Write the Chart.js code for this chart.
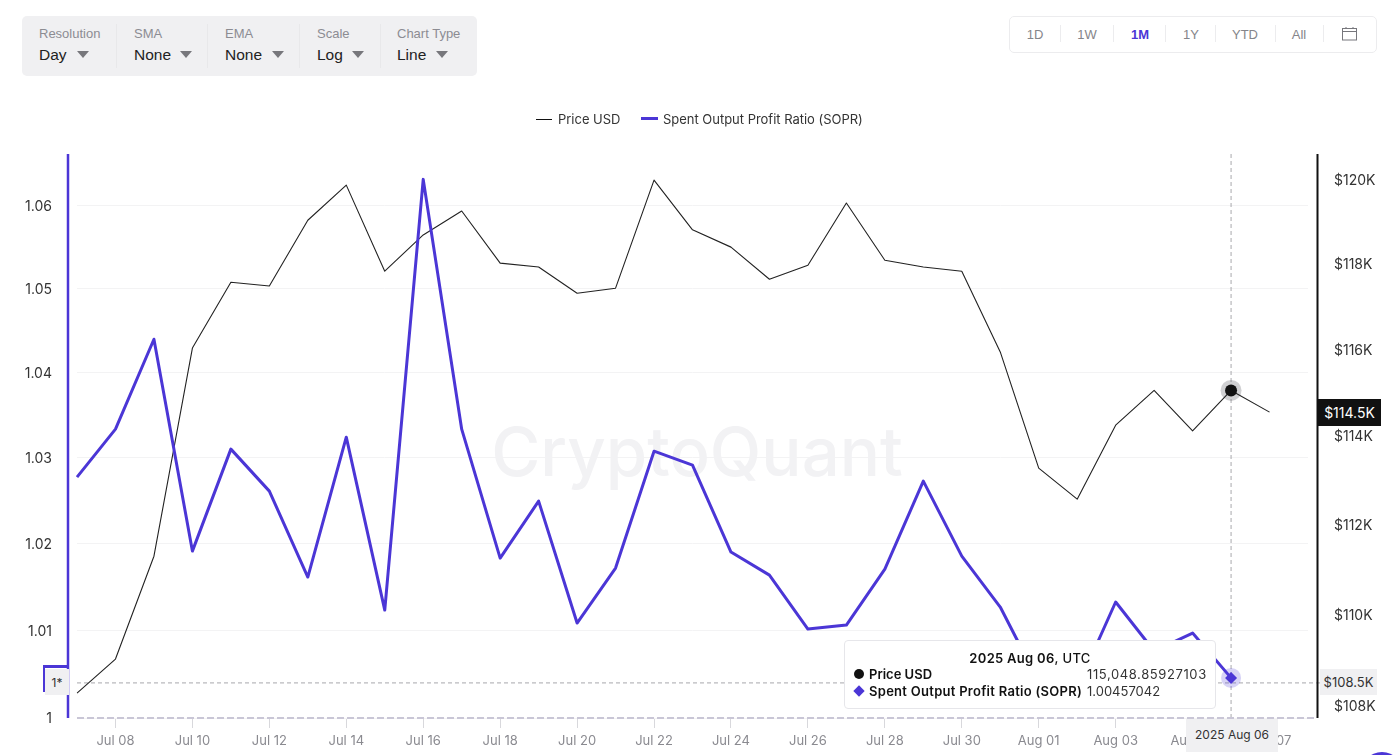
<!DOCTYPE html>
<html><head><meta charset="utf-8">
<script src="https://cdn.jsdelivr.net/npm/chart.js@4/dist/chart.umd.js"></script>
<style>
html,body{margin:0;padding:0;background:#fff;width:1400px;height:755px;overflow:hidden;font-family:Inter,sans-serif}
#wrap{position:relative;width:1400px;height:755px}
canvas{position:absolute;left:0;top:0}
.abs{position:absolute;white-space:nowrap}
.bar{left:22px;top:16px;width:455px;height:60px;background:#f0f0f2;border-radius:5px}
.lab{font:13px "Liberation Sans",sans-serif;color:#8c8c92;top:26px}
.val{font:15.5px "Liberation Sans",sans-serif;color:#222;top:46px}
.car{width:0;height:0;border-left:6px solid transparent;border-right:6px solid transparent;border-top:7px solid #77777c;top:51px}
.div{width:1px;background:#e8e8ea;top:24px;height:44px}
.range{left:1009px;top:16px;width:366px;height:35px;border:1px solid #ececee;border-radius:5px;background:#fff}
.rt{font:13px "Liberation Sans",sans-serif;color:#85858a;top:27px;transform:translateX(-50%)}
.rd{width:1px;background:#ececee;top:25px;height:17px}
.lg{font:13px Inter,sans-serif;color:#333;top:111px;letter-spacing:-.02px}
.tip{left:844px;top:640px;width:370px;height:67px;background:#fff;border:1px solid #e6e6ea;border-radius:4px;z-index:3}
.tt{font:600 13px Inter,sans-serif;color:#111;z-index:4}
.tv{font:13px Inter,sans-serif;color:#333;z-index:4}
.tag{font:13px Inter,sans-serif;z-index:4;text-align:center}
</style></head><body><div id="wrap">
<canvas id="c" width="1400" height="755"></canvas>
<div class="abs bar"></div>
<div class="abs lab" style="left:39px">Resolution</div><div class="abs val" style="left:39px">Day</div><div class="abs car" style="left:77px"></div><div class="abs div" style="left:116px"></div>
<div class="abs lab" style="left:134px">SMA</div><div class="abs val" style="left:134px">None</div><div class="abs car" style="left:180px"></div><div class="abs div" style="left:207px"></div>
<div class="abs lab" style="left:225px">EMA</div><div class="abs val" style="left:225px">None</div><div class="abs car" style="left:272px"></div><div class="abs div" style="left:299px"></div>
<div class="abs lab" style="left:317px">Scale</div><div class="abs val" style="left:317px">Log</div><div class="abs car" style="left:352px"></div><div class="abs div" style="left:380px"></div>
<div class="abs lab" style="left:397px">Chart Type</div><div class="abs val" style="left:397px">Line</div><div class="abs car" style="left:436px"></div>

<div class="abs range"></div>
<div class="abs rt" style="left:1035px">1D</div><div class="abs rd" style="left:1060px"></div>
<div class="abs rt" style="left:1087px">1W</div><div class="abs rd" style="left:1113px"></div>
<div class="abs rt" style="left:1140px;color:#4b36d6;font-weight:bold">1M</div><div class="abs rd" style="left:1165px"></div>
<div class="abs rt" style="left:1191px">1Y</div><div class="abs rd" style="left:1215px"></div>
<div class="abs rt" style="left:1245px">YTD</div><div class="abs rd" style="left:1275px"></div>
<div class="abs rt" style="left:1299px">All</div><div class="abs rd" style="left:1323px"></div>
<svg class="abs" style="left:1342px;top:26px" width="16" height="15" viewBox="0 0 16 15" fill="none" stroke="#77777c" stroke-width="1"><rect x="0.5" y="2.5" width="14" height="11.5"/><line x1="0.5" y1="5.5" x2="14.5" y2="5.5"/><line x1="4" y1="1" x2="4" y2="3"/><line x1="11" y1="1" x2="11" y2="3"/></svg>

<div class="abs" style="left:536px;top:119px;width:16px;height:1px;background:#111"></div>
<div class="abs lg" style="left:558px">Price USD</div>
<div class="abs" style="left:641px;top:117px;width:17px;height:3px;background:#4b36d6"></div>
<div class="abs lg" style="left:663px">Spent Output Profit Ratio (SOPR)</div>

<div class="abs tag" style="left:45px;top:669px;width:24px;height:26px;line-height:27px;background:#f0f0f2;color:#333;font-size:12px">1*</div>
<div class="abs" style="left:43px;top:665px;width:26px;height:3px;background:#4b36d6;z-index:4"></div>
<div class="abs" style="left:43px;top:665px;width:2px;height:27px;background:#4b36d6;z-index:4"></div>
<div class="abs tag" style="left:1320px;top:669px;width:57px;height:26px;line-height:27px;background:#f0f0f2;color:#333">$108.5K</div>
<div class="abs tag" style="left:1318px;top:399px;width:63px;height:27px;line-height:28px;background:#111;color:#fff;font-size:14px">$114.5K</div>
<div class="abs tag" style="left:1186px;top:719px;width:92px;height:33px;line-height:32px;background:#f0f0f2;color:#333;font-size:12px">2025 Aug 06</div>

<div class="abs tip"></div>
<div class="abs tt" style="left:844px;width:372px;text-align:center;top:650px;letter-spacing:.3px">2025 Aug 06<span style="font-weight:500">, UTC</span></div>
<div class="abs" style="left:854px;top:669px;width:10px;height:10px;border-radius:50%;background:#111;z-index:4"></div>
<div class="abs tt" style="left:869px;top:666px">Price USD</div>
<div class="abs tv" style="left:1087px;top:666px;letter-spacing:.6px">115,048.85927103</div>
<div class="abs" style="left:855px;top:687px;width:8px;height:8px;background:#4b36d6;transform:rotate(45deg);z-index:4"></div>
<div class="abs tt" style="left:869px;top:683px;letter-spacing:.28px">Spent Output Profit Ratio (SOPR)</div>
<div class="abs tv" style="left:1087px;top:683px">1.00457042</div>
<div class="abs" style="left:1360px;top:752px;width:44px;height:44px;border-radius:50%;background:#4b36d6"></div>
</div>
<script>
const categories = ["Jul 07","Jul 08","Jul 09","Jul 10","Jul 11","Jul 12","Jul 13","Jul 14","Jul 15","Jul 16","Jul 17","Jul 18","Jul 19","Jul 20","Jul 21","Jul 22","Jul 23","Jul 24","Jul 25","Jul 26","Jul 27","Jul 28","Jul 29","Jul 30","Jul 31","Aug 01","Aug 02","Aug 03","Aug 04","Aug 05","Aug 06","Aug 07",""];
const priceUSD = [108280,109020,111290,116030,117570,117480,119040,119880,117830,118690,119260,118020,117930,117310,117430,120000,118810,118400,117640,117970,119450,118090,117930,117830,115940,113270,112570,114250,115050,114120,115048.85927103,114550];
const soprValues = [1.02775,1.03337,1.04399,1.01915,1.03103,1.02612,1.01615,1.03243,1.01234,1.06313,1.03337,1.01834,1.02496,1.01085,1.01719,1.03079,1.02916,1.01904,1.01637,1.01016,1.01062,1.01706,1.02729,1.01857,1.01269,1.0041,1.00342,1.01327,1.00764,1.0097,1.00457042];
const soprTicks = [1,1.01,1.02,1.03,1.04,1.05,1.06];
const priceTicks = [108000,110000,112000,114000,116000,118000,120000];
const hoverIndex = 30;
const crossPrice = 108500;
const PURPLE = "#4b36d6";

const overlay = {
  id:"overlay",
  beforeDatasetsDraw(chart){
    const {ctx,chartArea:a,scales:s}=chart;
    ctx.save();
    ctx.font='500 67px Inter, sans-serif';
    ctx.fillStyle='#f2f2f4';
    ctx.textAlign='center';ctx.textBaseline='alphabetic';
    ctx.fillText('CryptoQuant',697,476);
    const cx=s.x.getPixelForValue(hoverIndex), cy=s.price.getPixelForValue(crossPrice);
    ctx.lineWidth=1;ctx.strokeStyle='#a8a8ac';ctx.setLineDash([4,3]);
    ctx.beginPath();ctx.moveTo(cx,a.top);ctx.lineTo(cx,a.bottom);ctx.stroke();
    ctx.beginPath();ctx.moveTo(a.left,cy);ctx.lineTo(1320,cy);ctx.stroke();
    ctx.setLineDash([]);
    ctx.fillStyle='rgba(120,120,125,.35)';
    ctx.beginPath();ctx.arc(cx,s.price.getPixelForValue(priceUSD[hoverIndex]),10.5,0,7);ctx.fill();
    ctx.fillStyle='rgba(75,54,214,.22)';
    ctx.beginPath();ctx.arc(cx,s.sopr.getPixelForValue(soprValues[hoverIndex]),10,0,7);ctx.fill();
    ctx.restore();
  },
  afterDatasetsDraw(chart){
    const {ctx,chartArea:a}=chart;
    ctx.save();
    ctx.lineWidth=2;ctx.strokeStyle='#c9c6d6';ctx.setLineDash([7,3]);
    ctx.beginPath();ctx.moveTo(a.left,a.bottom);ctx.lineTo(1314,a.bottom);ctx.stroke();
    ctx.setLineDash([]);
    ctx.lineWidth=2.5;ctx.strokeStyle=PURPLE;
    ctx.beginPath();ctx.moveTo(68,a.top);ctx.lineTo(68,a.bottom);ctx.stroke();
    ctx.lineWidth=2;ctx.strokeStyle='#111';
    ctx.beginPath();ctx.moveTo(1317.5,a.top);ctx.lineTo(1317.5,a.bottom);ctx.stroke();
    ctx.restore();
  }
};
const hov=(v,o)=>c=>c.dataIndex===hoverIndex?v:o;
new Chart(document.getElementById('c'),{
  type:'line',
  data:{labels:categories,datasets:[
    {label:'Price USD',data:priceUSD,yAxisID:'price',borderColor:'#222',borderWidth:1.1,tension:0,borderJoinStyle:'round',
     pointRadius:hov(6,0),pointStyle:'circle',pointBackgroundColor:'#111',pointBorderWidth:0,order:2},
    {label:'Spent Output Profit Ratio (SOPR)',data:soprValues,yAxisID:'sopr',borderColor:PURPLE,borderWidth:3,tension:0,borderJoinStyle:'round',
     pointRadius:hov(6,0),pointStyle:'rectRot',pointBackgroundColor:PURPLE,pointBorderWidth:0,order:1}
  ]},
  plugins:[overlay],
  options:{
    responsive:false,animation:false,devicePixelRatio:1,
    layout:{padding:{top:154,left:0,right:0,bottom:0}},
    plugins:{legend:{display:false},tooltip:{enabled:false}},
    scales:{
      x:{type:'category',offset:false,
        afterBuildTicks:a=>{a.ticks=a.ticks.filter(t=>t.value%2===1)},
        afterFit:a=>{a.height=37},
        border:{display:false},
        grid:{drawOnChartArea:false,drawTicks:true,tickLength:10,tickColor:'#d8d8dc',lineWidth:1},
        ticks:{autoSkip:false,maxRotation:0,minRotation:0,padding:5,color:'#8a8a90',font:{family:'Inter',size:13},
          callback(v){return this.getLabelForValue(v)}}},
      sopr:{type:'logarithmic',position:'left',min:1,max:1.0662,
        afterBuildTicks:a=>{a.ticks=soprTicks.map(v=>({value:v}))},
        afterFit:a=>{a.width=77},
        border:{display:false},
        grid:{color:'#f3f3f4',lineWidth:1,drawTicks:false},
        ticks:{padding:25,labelOffset:1,color:'#333',font:{family:'Inter',size:14},callback:v=>String(v)}},
      price:{type:'logarithmic',position:'right',min:107740,max:120630,
        afterBuildTicks:a=>{a.ticks=priceTicks.map(v=>({value:v}))},
        afterFit:a=>{a.width=92},
        border:{display:false},
        grid:{drawOnChartArea:false,drawTicks:false},
        ticks:{padding:26,labelOffset:1,color:'#333',font:{family:'Inter',size:14},callback:v=>'$'+(v/1000)+'K'}}
    }
  }
});
</script></body></html>
